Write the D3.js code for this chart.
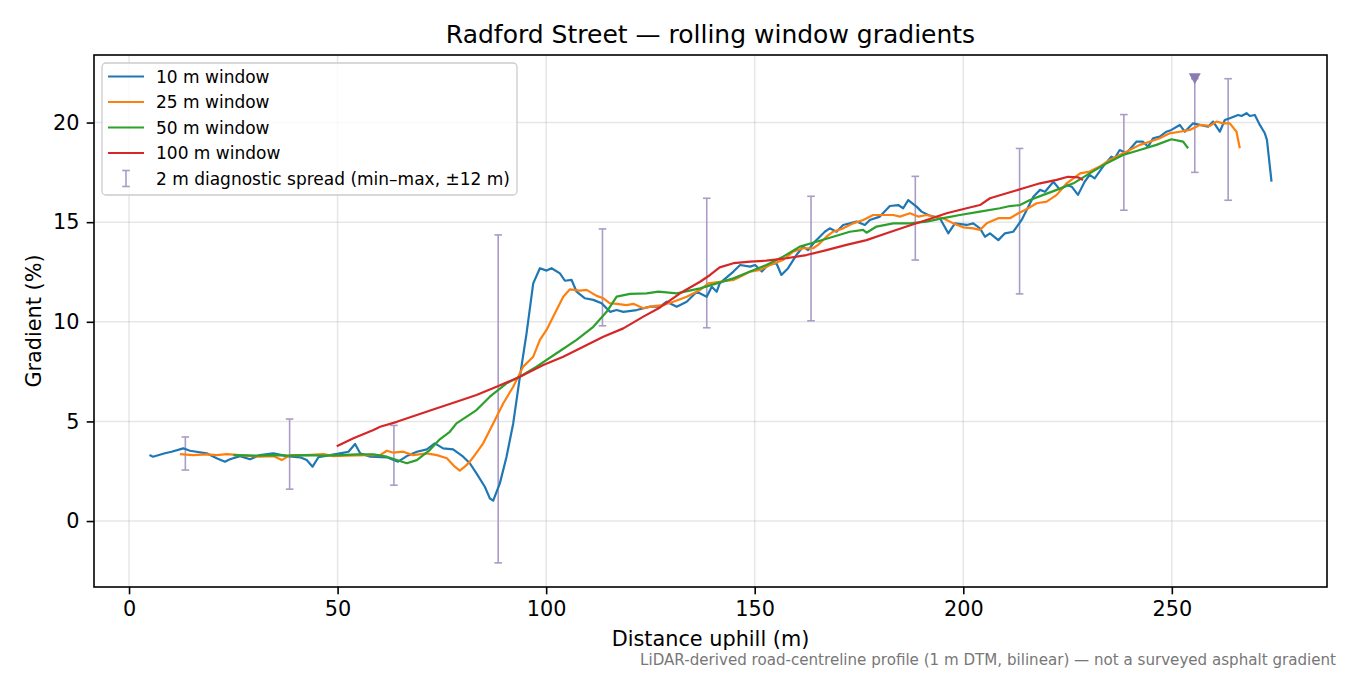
<!DOCTYPE html>
<html>
<head>
<meta charset="utf-8">
<script src="https://cdn.jsdelivr.net/npm/d3@7"></script>
<style>
  body { margin: 0; background: #fff; }
  svg { font-family: "DejaVu Sans", sans-serif; }
</style>
</head>
<body>
<div id="plot"></div>
<script>
// distance (m) and gradient (%)
const win10X = [4.9,5.75,8.6,10.2,13.0,14.6,18.6,21.0,23.0,24.2,26.6,29.0,31.4,34.6,37.8,41.0,42.6,44.0,45.4,48.2,50.6,52.6,54.2,55.4,57.8,61.8,64.5,66.6,69.0,71.4,73.3,75.3,77.7,80.1,81.7,83.3,85.3,86.5,87.3,88.9,90.5,92.1,93.7,95.3,96.9,98.5,100.1,101.3,103.3,104.5,106.1,107.3,109.3,111.3,113.3,115.3,116.9,118.5,121.7,124.9,127.3,128.9,131.3,133.7,136.1,138.5,139.7,140.9,141.6,144.9,146.5,148.9,150.1,151.7,153.2,155.2,156.4,158.0,160.0,161.6,162.8,164.4,166.8,168.0,169.6,171.2,172.8,174.4,176.4,177.6,180.0,182.4,184.4,185.6,186.8,188.8,190.0,191.6,194.4,196.4,198.0,200.8,202.4,204.0,205.2,206.4,208.4,210.0,212.0,214.0,215.2,216.8,218.4,219.6,221.6,223.2,224.8,226.0,227.5,229.1,230.3,231.5,233.5,235.5,236.3,237.5,239.1,241.5,243.1,244.3,245.5,247.1,248.7,249.9,251.9,253.1,255.1,256.7,258.7,259.9,261.5,262.7,263.9,265.9,266.7,267.9,268.7,269.9,271.1,272.3,272.8,273.9];
const win10Y = [3.31,3.23,3.4,3.48,3.65,3.53,3.4,3.15,2.98,3.1,3.26,3.1,3.31,3.4,3.26,3.2,3.06,2.73,3.2,3.31,3.4,3.48,3.87,3.4,3.23,3.2,2.98,3.26,3.48,3.6,3.9,3.65,3.6,3.23,2.9,2.39,1.72,1.14,1.02,1.89,3.23,4.9,7.24,9.42,11.93,12.69,12.57,12.69,12.43,12.06,12.1,11.51,11.18,11.1,10.93,10.5,10.59,10.5,10.59,10.76,10.76,11.01,10.76,11.01,11.51,11.26,11.76,11.51,11.93,12.52,12.85,12.77,12.85,12.52,12.85,12.94,12.35,12.69,13.35,13.77,13.6,14.02,14.52,14.69,14.52,14.86,14.94,15.03,14.86,15.11,15.28,15.81,15.86,15.7,16.11,15.78,15.53,15.36,15.2,14.44,14.94,14.86,14.94,14.69,14.27,14.44,14.1,14.44,14.52,15.11,15.61,16.28,16.62,16.53,17.03,16.62,16.87,16.78,16.37,17.03,17.37,17.2,17.79,18.29,18.21,18.62,18.46,19.04,19.04,18.79,19.21,19.29,19.54,19.63,19.88,19.54,19.96,19.88,19.79,20.05,19.54,20.13,20.22,20.38,20.33,20.47,20.33,20.38,19.88,19.46,19.13,17.03];

const win25X = [12.2,15.4,18.6,21.0,23.4,26.6,31.4,34.6,36.6,38.6,42.6,46.6,49.0,52.2,57.0,60.2,61.8,63.4,65.7,68.1,71.4,73.8,76.2,78.1,79.3,80.5,81.7,82.5,84.9,87.3,89.7,92.1,94.5,96.9,98.5,100.1,102.1,104.1,105.7,108.1,109.7,112.1,113.7,115.3,116.9,119.3,120.9,123.3,125.7,128.1,130.5,133.7,136.9,138.9,141.6,144.9,146.5,148.9,151.3,153.7,156.8,159.2,161.6,164.0,165.2,167.2,168.8,171.2,173.6,176.0,178.4,180.8,183.2,184.8,187.2,189.2,191.2,192.8,195.2,197.6,200.0,202.4,204.0,205.6,208.4,211.2,213.2,214.8,217.6,220.0,222.4,224.8,228.0,230.3,232.7,235.1,237.5,239.9,242.3,244.7,247.1,249.5,251.9,254.3,256.7,259.1,260.7,262.3,263.9,265.5,266.3];
const win25Y = [3.36,3.31,3.35,3.31,3.36,3.31,3.23,3.26,3.06,3.31,3.31,3.36,3.26,3.28,3.31,3.31,3.53,3.43,3.48,3.31,3.4,3.31,3.15,2.73,2.53,2.73,2.98,3.2,3.9,4.9,5.9,6.74,7.75,8.25,9.09,9.59,10.43,11.26,11.63,11.56,11.6,11.3,11.18,10.93,10.9,10.84,10.9,10.68,10.79,10.84,11.01,11.26,11.6,11.93,12.01,12.1,12.26,12.52,12.6,12.85,13.1,13.52,13.69,13.69,13.86,14.27,14.52,14.69,14.94,15.11,15.36,15.36,15.36,15.28,15.45,15.28,15.36,15.28,15.2,14.94,14.74,14.69,14.61,14.94,15.2,15.2,15.45,15.61,15.95,16.03,16.37,16.95,17.45,17.54,17.79,18.12,18.37,18.62,18.88,19.04,19.21,19.46,19.54,19.63,19.88,19.83,20.05,19.96,19.96,19.54,18.71];

const win50X = [25.0,30.6,34.6,38.6,42.6,46.6,50.6,54.6,58.6,61.8,64.2,66.6,69.0,72.1,74.5,76.9,78.5,83.3,86.5,90.5,93.7,97.7,102.5,107.3,111.3,114.5,116.9,120.1,124.1,126.9,131.3,136.9,140.9,144.9,148.9,152.8,156.8,160.8,164.8,168.8,172.8,176.0,176.8,179.2,183.2,187.2,191.2,195.2,199.2,204.0,208.8,211.2,213.6,216.0,219.2,222.4,226.4,230.3,234.3,238.3,242.3,246.3,249.9,252.7,253.9];
const win50Y = [3.31,3.28,3.31,3.28,3.31,3.28,3.31,3.35,3.35,3.23,3.06,2.9,3.06,3.56,4.1,4.48,4.9,5.57,6.24,6.91,7.24,7.75,8.42,9.09,9.75,10.5,11.26,11.4,11.43,11.51,11.43,11.68,11.93,12.18,12.52,12.85,13.27,13.77,14.02,14.27,14.52,14.61,14.47,14.78,14.94,14.94,15.03,15.2,15.36,15.53,15.7,15.81,15.86,16.11,16.37,16.62,16.95,17.45,17.95,18.37,18.62,18.88,19.16,19.04,18.71];

const win100X = [49.8,53.8,58.6,60.2,64.2,69.0,73.8,78.5,83.3,88.1,93.7,99.3,104.1,108.9,113.7,118.5,123.3,127.3,132.1,136.9,139.3,141.6,144.9,148.9,152.8,157.6,162.4,167.2,172.0,176.8,181.6,186.4,191.2,196.0,200.8,204.0,206.4,210.4,214.4,218.4,222.4,225.1,227.5,228.7];
const win100Y = [3.75,4.15,4.57,4.73,4.98,5.32,5.66,5.99,6.33,6.74,7.24,7.83,8.25,8.75,9.25,9.67,10.26,10.72,11.43,12.01,12.35,12.73,12.94,13.02,13.07,13.19,13.35,13.6,13.86,14.1,14.44,14.78,15.11,15.45,15.7,15.86,16.2,16.45,16.7,16.95,17.12,17.28,17.25,17.12];

// 2 m diagnostic spread (min-max over +-12 m)
const spreadX = [13.5,38.5,63.5,88.5,113.5,138.5,163.5,188.5,213.5,238.5,255.5,263.5];
const spreadMin = [2.56,1.6,1.8,-2.1,9.8,9.7,10.05,13.1,11.4,15.6,17.5,16.1];
const spreadMax = [4.22,5.12,4.8,14.36,14.66,16.2,16.3,17.3,18.7,20.4,22.2,22.2];

// steepest 2 m sample
const peakX = [255.5];
const peakY = [22.2];

const seriesNames = ["10 m window", "25 m window", "50 m window", "100 m window"];
const seriesColors = ["#1f77b4", "#ff7f0e", "#2ca02c", "#d62728"];
const xTicks = [0, 50, 100, 150, 200, 250];
const yTicks = [0, 5, 10, 15, 20];

const series = [
    d3.zip(win10X, win10Y),
    d3.zip(win25X, win25Y),
    d3.zip(win50X, win50Y),
    d3.zip(win100X, win100Y)
];

const W = 1350, H = 675;
const margin = {top: 55, right: 23, bottom: 88, left: 94};
const width = W - margin.left - margin.right;
const height = H - margin.top - margin.bottom;

const svg = d3.select("#plot")
    .append("svg")
    .attr("width", W)
    .attr("height", H);

const g = svg.append("g")
    .attr("transform", "translate(" + margin.left + "," + margin.top + ")");

const x = d3.scaleLinear().domain([-8.4, 287.2]).range([0, width]);
const y = d3.scaleLinear().domain([-3.31, 23.39]).range([height, 0]);

// grid
g.append("g").selectAll("line")
    .data(xTicks).enter().append("line")
    .attr("x1", d => x(d)).attr("x2", d => x(d))
    .attr("y1", 0).attr("y2", height)
    .attr("stroke", "#b0b0b0").attr("stroke-opacity", 0.3).attr("stroke-width", 1.5);
g.append("g").selectAll("line")
    .data(yTicks).enter().append("line")
    .attr("y1", d => y(d)).attr("y2", d => y(d))
    .attr("x1", 0).attr("x2", width)
    .attr("stroke", "#b0b0b0").attr("stroke-opacity", 0.3).attr("stroke-width", 1.5);

// spread bars
const spreadColor = "#a99cc6";
const bars = g.append("g");
spreadX.forEach((sx, i) => {
    const cx = x(sx);
    bars.append("line")
        .attr("x1", cx).attr("x2", cx)
        .attr("y1", y(spreadMin[i])).attr("y2", y(spreadMax[i]))
        .attr("stroke", spreadColor).attr("stroke-width", 1.6);
    [spreadMin[i], spreadMax[i]].forEach(v => {
        bars.append("line")
            .attr("x1", cx - 3.8).attr("x2", cx + 3.8)
            .attr("y1", y(v)).attr("y2", y(v))
            .attr("stroke", spreadColor).attr("stroke-width", 1.6);
    });
});

// lines
const line = d3.line().x(d => x(d[0])).y(d => y(d[1]));
series.forEach((s, i) => {
    g.append("path")
        .datum(s)
        .attr("fill", "none")
        .attr("stroke", seriesColors[i])
        .attr("stroke-width", 2.2)
        .attr("stroke-linejoin", "round")
        .attr("d", line);
});

// peak marker
g.selectAll(".peak")
    .data(d3.zip(peakX, peakY)).enter().append("path")
    .attr("class", "peak")
    .attr("transform", d => "translate(" + x(d[0]) + "," + y(d[1]) + ")")
    .attr("d", "M-6,-5.5L6,-5.5L0,5.5Z")
    .attr("fill", "#8a7cae");

// axes
const xAxis = g.append("g")
    .attr("transform", "translate(0," + height + ")")
    .call(d3.axisBottom(x).tickValues(xTicks).tickSize(7.3).tickPadding(7.3));
const yAxis = g.append("g")
    .call(d3.axisLeft(y).tickValues(yTicks).tickSize(7.3).tickPadding(7.3));
[xAxis, yAxis].forEach(a => {
    a.select(".domain").remove();
    a.selectAll("line").attr("stroke", "#000").attr("stroke-width", 1.6);
    a.selectAll("text").attr("font-size", 20.8).attr("fill", "#000")
        .attr("font-family", "DejaVu Sans");
});

// frame
g.append("rect")
    .attr("width", width).attr("height", height)
    .attr("fill", "none").attr("stroke", "#000").attr("stroke-width", 1.6);

// labels
svg.append("text")
    .attr("x", margin.left + width / 2).attr("y", 43)
    .attr("text-anchor", "middle").attr("font-size", 25)
    .text("Radford Street — rolling window gradients");
svg.append("text")
    .attr("x", margin.left + width / 2).attr("y", 646)
    .attr("text-anchor", "middle").attr("font-size", 20.8)
    .text("Distance uphill (m)");
svg.append("text")
    .attr("transform", "translate(41," + (margin.top + height / 2) + ")rotate(-90)")
    .attr("text-anchor", "middle").attr("font-size", 20.8)
    .text("Gradient (%)");
svg.append("text")
    .attr("x", 1336).attr("y", 665)
    .attr("text-anchor", "end").attr("font-size", 15.1).attr("fill", "#777")
    .text("LiDAR-derived road-centreline profile (1 m DTM, bilinear) — not a surveyed asphalt gradient");

// legend
const legend = svg.append("g").attr("transform", "translate(102,63)");
legend.append("rect")
    .attr("width", 415).attr("height", 132).attr("rx", 4)
    .attr("fill", "#fff").attr("fill-opacity", 0.8)
    .attr("stroke", "#cccccc").attr("stroke-width", 1.3);
const rowY = i => 13.5 + i * 25.5;
seriesNames.forEach((name, i) => {
    legend.append("line")
        .attr("x1", 6).attr("x2", 42)
        .attr("y1", rowY(i)).attr("y2", rowY(i))
        .attr("stroke", seriesColors[i]).attr("stroke-width", 2.2);
    legend.append("text")
        .attr("x", 54).attr("y", rowY(i) + 6)
        .attr("font-size", 17)
        .text(name);
});
const ly = rowY(4);
legend.append("line").attr("x1", 24).attr("x2", 24).attr("y1", ly - 8).attr("y2", ly + 8)
    .attr("stroke", spreadColor).attr("stroke-width", 1.6);
[ly - 8, ly + 8].forEach(v => legend.append("line")
    .attr("x1", 20.2).attr("x2", 27.8).attr("y1", v).attr("y2", v)
    .attr("stroke", spreadColor).attr("stroke-width", 1.6));
legend.append("text")
    .attr("x", 54).attr("y", ly + 6)
    .attr("font-size", 17)
    .text("2 m diagnostic spread (min–max, ±12 m)");
</script>
</body>
</html>
